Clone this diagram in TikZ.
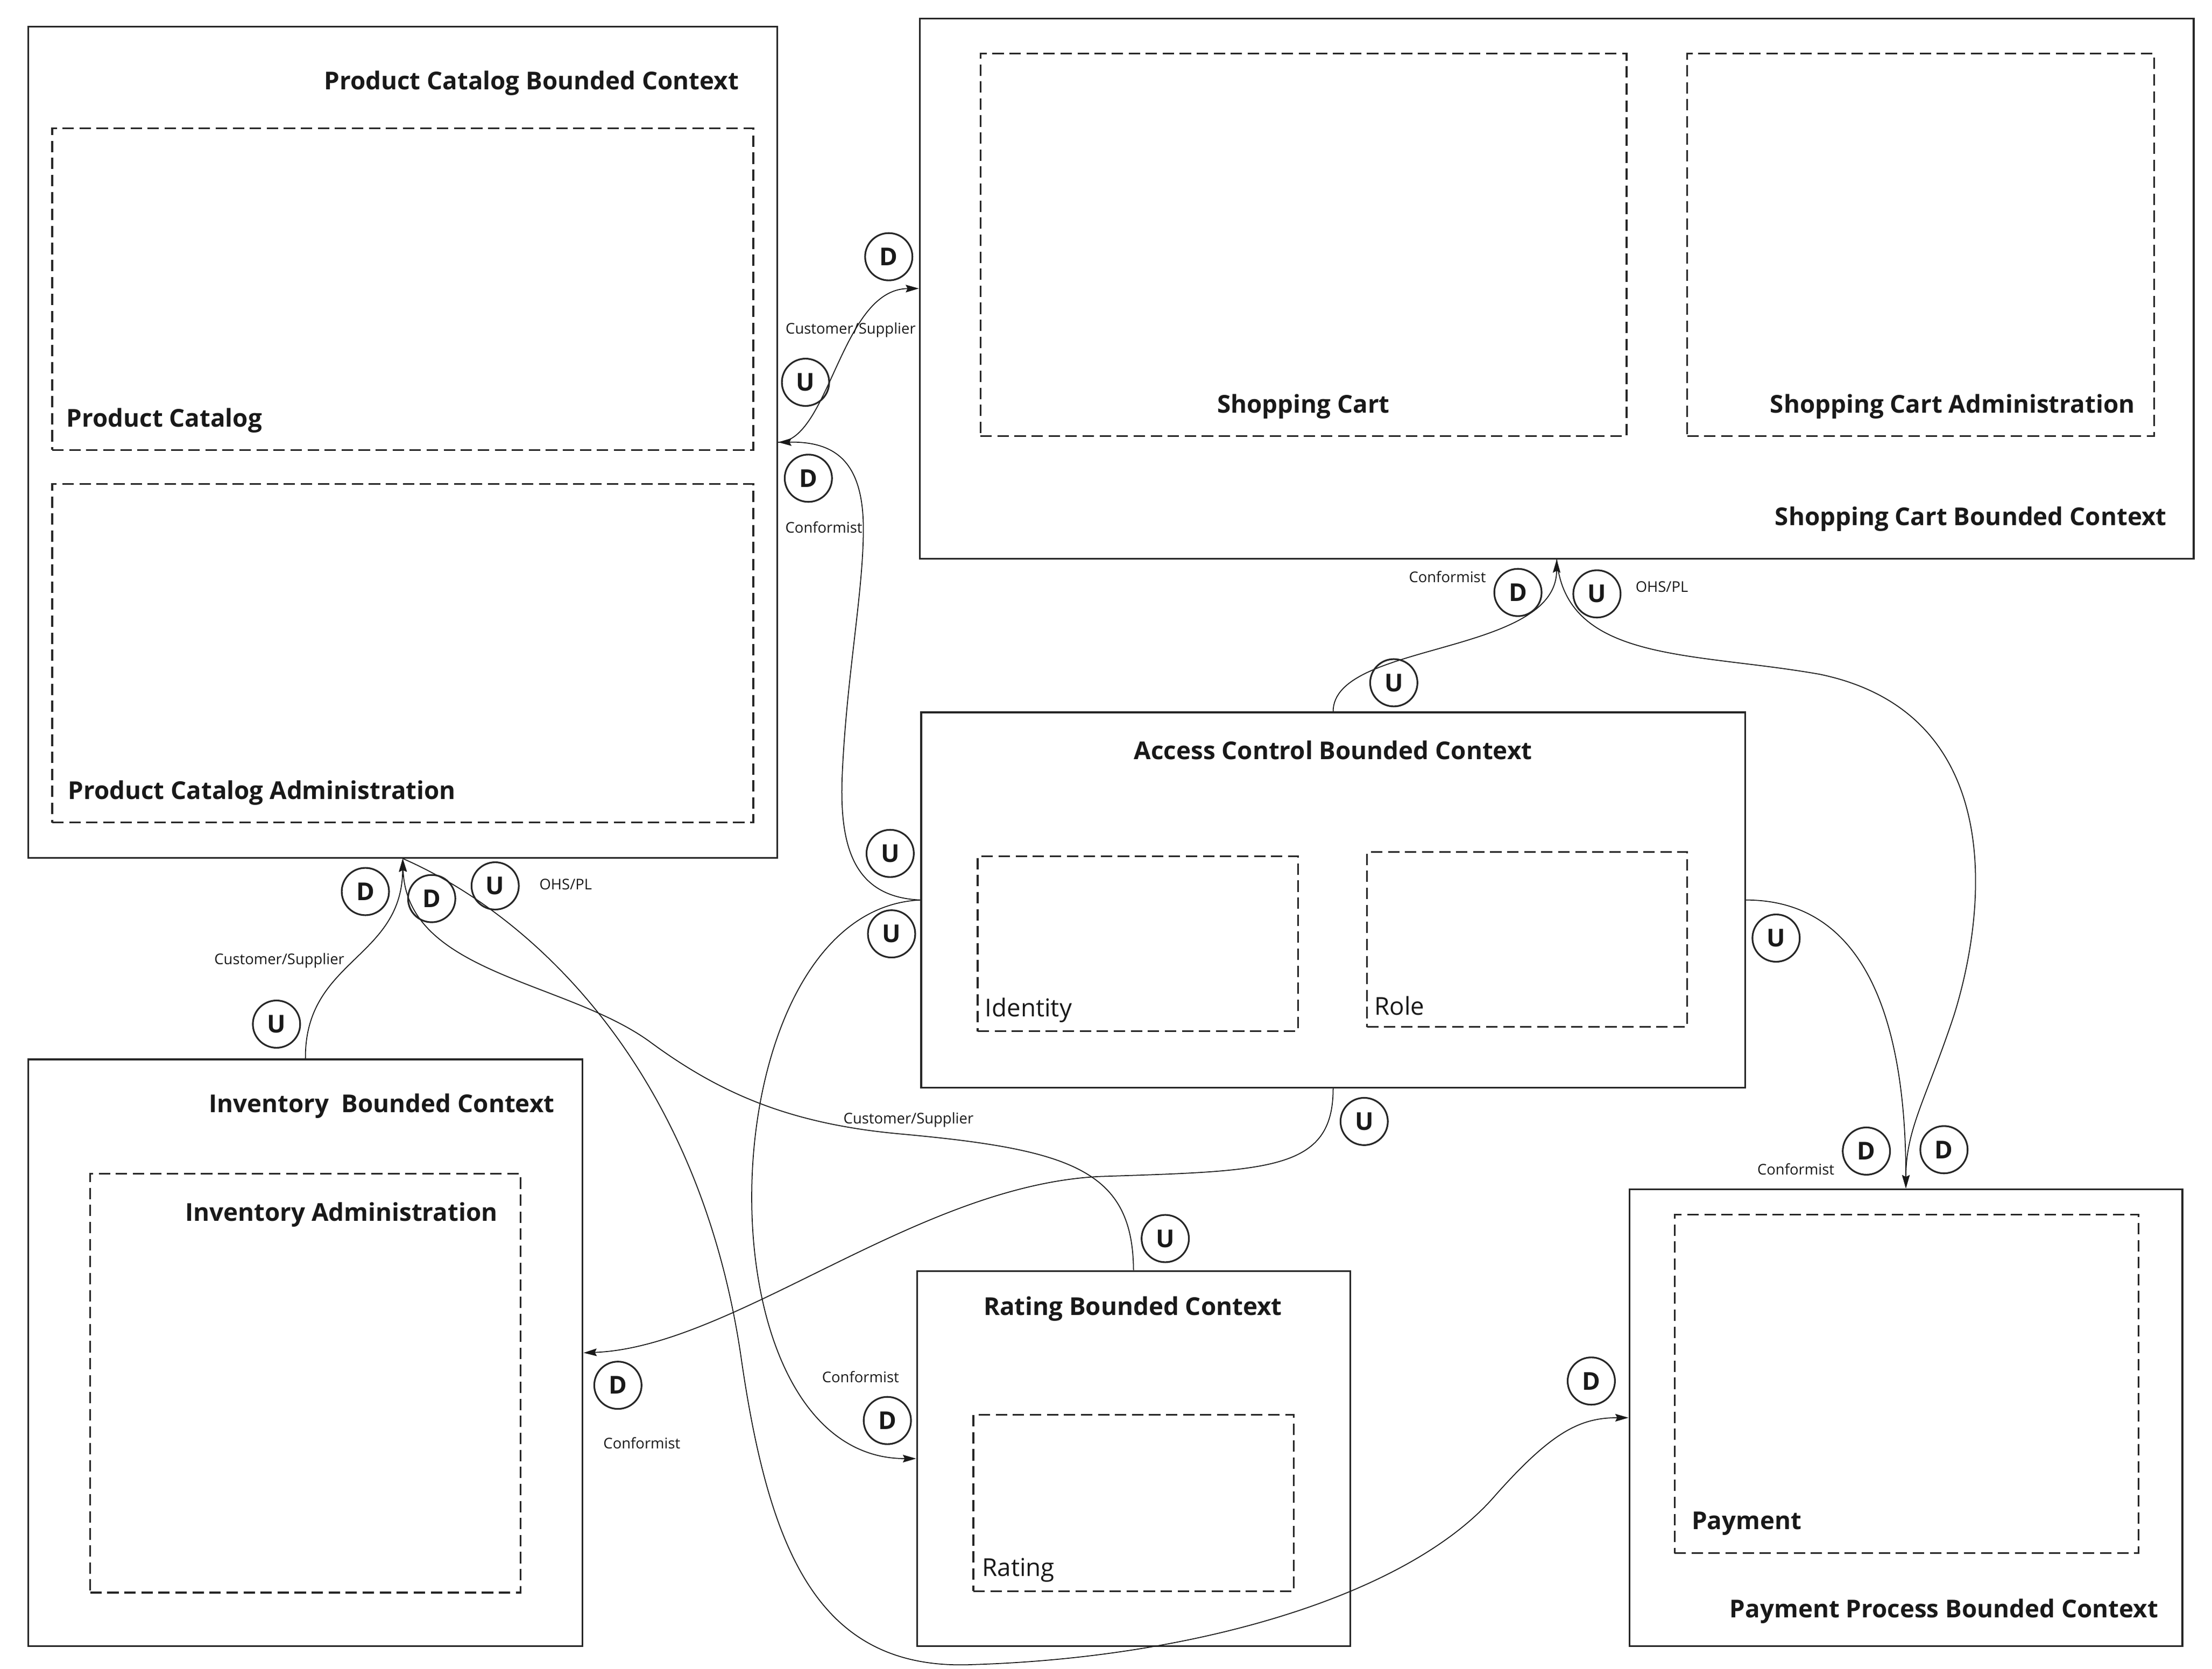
\documentclass[tikz,border=0pt]{standalone}
\usepackage{fontspec}
\setmainfont{Open Sans}
\usetikzlibrary{fit,arrows.meta}
\begin{document}
\begin{tikzpicture}[x=0.026218cm,y=-0.026218cm,
 bc/.style={draw=black!85, line width=0.9pt, inner sep=0pt},
 sub/.style={draw=black!85, line width=0.9pt, dash pattern=on 6pt off 3pt, inner sep=0pt},
 ttl/.style={font=\fontsize{13}{15}\selectfont\bfseries, text=black!90, inner sep=0pt, yshift=-1.5pt},
 lbl/.style={font=\fontsize{13}{15}\selectfont, text=black!90, inner sep=0pt, yshift=-1.5pt},
 rel/.style={font=\fontsize{7.8}{9}\selectfont, text=black!90, inner sep=0pt},
 ud/.style={circle, draw=black!85, line width=0.9pt, minimum size=25pt, inner sep=0pt, text=black!90, font=\fontsize{13}{15}\selectfont\bfseries},
 conn/.style={draw=black!90, line width=0.5pt, -{Stealth[length=7pt,width=4pt,inset=1pt]}},
]
\useasboundingbox (0,0) rectangle (1568,1183.1);

% bounded contexts
\node[bc, fit={(20,19) (551,608)}] (pc) {};
\node[sub, fit={(37,91) (534,319)}] (pcs) {};
\node[sub, fit={(37,343) (534,583)}] (pca) {};
\node[ttl, anchor=east] (pct) at (524,57) {Product Catalog Bounded Context};
\node[ttl, anchor=west] (pcst) at (47,296) {Product Catalog};
\node[ttl, anchor=west] (pcat) at (48,560) {Product Catalog Administration};

\node[bc, fit={(652,13) (1555,396)}] (sc) {};
\node[sub, fit={(695,38) (1153,309)}] (scs) {};
\node[sub, fit={(1196,38) (1527,309)}] (sca) {};
\node[ttl] (scst) at (924,286) {Shopping Cart};
\node[ttl] (scat) at (1384,286) {Shopping Cart Administration};
\node[ttl, anchor=east] (sct) at (1536,366) {Shopping Cart Bounded Context};

\node[bc, fit={(653,505) (1237,771)}] (ac) {};
\node[sub, fit={(693,607) (920,731)}] (aci) {};
\node[sub, fit={(969,604) (1196,728)}] (acr) {};
\node[ttl] (act) at (945,530) {Access Control Bounded Context};
\node[lbl, anchor=west] (acit) at (698,714) {Identity};
\node[lbl, anchor=west] (acrt) at (974,711) {Role};

\node[bc, fit={(20,751) (413,1167)}] (inv) {};
\node[sub, fit={(64,832) (369,1129)}] (inva) {};
\node[ttl] (invt) at (270.5,782) {Inventory\ \ Bounded Context};
\node[ttl] (invat) at (242,859) {Inventory Administration};

\node[bc, fit={(650,901) (957,1167)}] (rt) {};
\node[sub, fit={(690,1003) (917,1128)}] (rts) {};
\node[ttl] (rtt) at (803,926) {Rating Bounded Context};
\node[lbl, anchor=west] (rtst) at (696,1111) {Rating};

\node[bc, fit={(1155,843) (1547,1167)}] (pp) {};
\node[sub, fit={(1187,861) (1516,1101)}] (pps) {};
\node[ttl, anchor=west] (ppst) at (1199,1078) {Payment};
\node[ttl] (ppt) at (1378,1140) {Payment Process Bounded Context};

% connectors
\draw[conn] (pc.east) .. controls (588,313) and (596,205) .. (sc.west);
\draw[conn] (ac.west) .. controls (605,636) and (595,600) .. (597,550)
  .. controls (600,480) and (612,420) .. (612,375)
  .. controls (612,325) and (590,313) .. (pc.east);
\draw[conn] (ac.west) .. controls (500,645) and (490,1034) .. (rt.west);
\draw[conn] (ac.north) .. controls (945,455) and (1103,465) .. (sc.south);
\draw[conn] (sc.south) .. controls (1110,470) and (1200,462) .. (1290,478)
  .. controls (1420,505) and (1410,640) .. (1385,720)
  .. controls (1365,780) and (1351,800) .. (pp.north);
\draw[conn] (ac.east) .. controls (1330,638) and (1351,740) .. (pp.north);
\draw[conn] (ac.south) .. controls (945,830) and (900,830) .. (780,834)
  .. controls (650,840) and (520,955) .. (inv.east);
\draw[conn] (inv.north) .. controls (216,680) and (285,680) .. (pc.south);
\draw[conn] (rt.north) .. controls (803,830) and (760,815) .. (640,804)
  .. controls (560,797) and (510,775) .. (460,738)
  .. controls (400,695) and (288,690) .. (pc.south);
\draw[conn] (pc.south) .. controls (380,650) and (495,760) .. (525,960)
  .. controls (545,1100) and (580,1185) .. (690,1180)
  .. controls (850,1175) and (1000,1130) .. (1060,1060)
  .. controls (1100,1015) and (1120,1005) .. (pp.west);

% U / D markers
\node[ud] (u1) at (571,271) {U};
\node[ud] (d1) at (630,182) {D};
\node[ud] (d2) at (573,339) {D};
\node[ud] (u2) at (631,605) {U};
\node[ud] (u3) at (632,662) {U};
\node[ud] (d3) at (629,1007) {D};
\node[ud] (u4) at (988,484) {U};
\node[ud] (d4) at (1076,420) {D};
\node[ud] (u5) at (1132,421) {U};
\node[ud] (d5) at (1378,815) {D};
\node[ud] (u6) at (1259,665) {U};
\node[ud] (d6) at (1323,816) {D};
\node[ud] (u7) at (967,795) {U};
\node[ud] (d7) at (438,982) {D};
\node[ud] (u8) at (196,726) {U};
\node[ud] (d8) at (259,632) {D};
\node[ud] (u9) at (826,878) {U};
\node[ud] (d9) at (306,637) {D};
\node[ud] (u10) at (351,628) {U};
\node[ud] (d10) at (1128,979) {D};

% relationship labels
\node[rel] (r1) at (603,234) {Customer/Supplier};
\node[rel] (r2) at (584,374) {Conformist};
\node[rel] (r3) at (610,976) {Conformist};
\node[rel] (r4) at (1026,409) {Conformist};
\node[rel] (r5) at (1178,416) {OHS/PL};
\node[rel] (r6) at (1273,829) {Conformist};
\node[rel] (r7) at (455,1023) {Conformist};
\node[rel] (r8) at (198,681) {Customer/Supplier};
\node[rel] (r9) at (644,794) {Customer/Supplier};
\node[rel] (r10) at (401,627) {OHS/PL};
\end{tikzpicture}
\end{document}
